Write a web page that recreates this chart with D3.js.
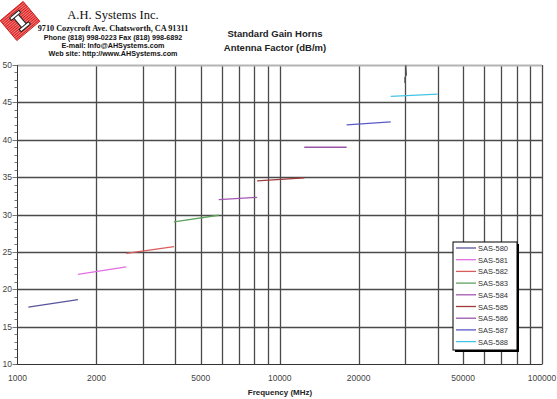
<!DOCTYPE html>
<html>
<head>
<meta charset="utf-8">
<script src="https://cdn.jsdelivr.net/npm/d3@7"></script>
<style>
  body { margin: 0; background: #fff; }
  svg { display: block; }
</style>
</head>
<body>
<script>
var w = 557;
var h = 399;

// one short segment per horn, start/end frequency in MHz and antenna factor in dB/m
var seriesNames = ["SAS-580", "SAS-581", "SAS-582", "SAS-583", "SAS-584", "SAS-585", "SAS-586", "SAS-587", "SAS-588"];
var freqStart = [1100, 1700, 2600, 3950, 5850, 8200, 12400, 18000, 26500];
var freqEnd = [1700, 2600, 3950, 5850, 8200, 12400, 18000, 26500, 40000];
var afStart = [17.6, 22.0, 24.8, 29.0, 32.0, 34.5, 39.0, 42.0, 45.8];
var afEnd = [18.6, 23.0, 25.7, 29.9, 32.3, 34.9, 39.0, 42.4, 46.1];

// stray trace near 30 GHz that runs off the top
var strayFreq = [30000, 30000, 30400, 30200];
var strayAF = [47.6, 48.3, 48.7, 50.5];

var xTickLabels = [1000, 2000, 5000, 10000, 20000, 50000, 100000];
var yTickLabels = [10, 15, 20, 25, 30, 35, 40, 45, 50];

var colors = ["#55559c", "#e26ee2", "#d85c5c", "#5fa35f", "#a457b4", "#a33a3a", "#9a55aa", "#5a5ac8", "#44c4e4"];

var pLeft = 17.5, pRight = 542, pTop = 65, pBottom = 364;

var xScale = d3.scaleLog().domain([1000, 100000]).range([pLeft, pRight]);
var yScale = d3.scaleLinear().domain([10, 50]).range([pBottom, pTop]);

var svg = d3.select("body").append("svg")
    .attr("width", w)
    .attr("height", h);

// vertical grid: every 1-9 step of each decade
var vGrid = [];
for (var d = 1000; d <= 10000; d *= 10) {
    for (var k = 1; k <= 9; k++) vGrid.push(d * k);
}
vGrid.push(100000);

svg.append("g").selectAll("line")
    .data(vGrid.filter(function(f) { return f > 1000; }))
    .enter().append("line")
    .attr("x1", function(f) { return Math.round(xScale(f)) + 0.5; })
    .attr("x2", function(f) { return Math.round(xScale(f)) + 0.5; })
    .attr("y1", pTop)
    .attr("y2", pBottom)
    .attr("stroke", "#4a4a4a")
    .attr("stroke-width", 1.3);

// horizontal grid every 5 dB
svg.append("g").selectAll("line")
    .data(yTickLabels.filter(function(v) { return v > 10; }))
    .enter().append("line")
    .attr("x1", pLeft)
    .attr("x2", pRight)
    .attr("y1", function(v) { return Math.round(yScale(v)) + 0.5; })
    .attr("y2", function(v) { return Math.round(yScale(v)) + 0.5; })
    .attr("stroke", function(v) { return v === 50 ? "#b4b4b4" : "#4a4a4a"; })
    .attr("stroke-width", function(v) { return v === 50 ? 2 : 1.3; });

// axes lines
svg.append("line")
    .attr("x1", Math.round(pLeft) - 0.5).attr("x2", Math.round(pLeft) - 0.5)
    .attr("y1", pTop).attr("y2", pBottom + 0.5)
    .attr("stroke", "#333").attr("stroke-width", 1);
svg.append("line")
    .attr("x1", pLeft - 1).attr("x2", pRight + 0.5)
    .attr("y1", pBottom + 0.5).attr("y2", pBottom + 0.5)
    .attr("stroke", "#333").attr("stroke-width", 1);

// y ticks: minor every 1 dB, major every 5
svg.append("g").selectAll("line")
    .data(d3.range(10, 51, 1))
    .enter().append("line")
    .attr("x1", function(v) { return v % 5 === 0 ? pLeft - 5 : pLeft - 3; })
    .attr("x2", Math.round(pLeft) - 0.5)
    .attr("y1", function(v) { return Math.round(yScale(v)) + 0.5; })
    .attr("y2", function(v) { return Math.round(yScale(v)) + 0.5; })
    .attr("stroke", "#555")
    .attr("stroke-width", 0.8);

svg.append("g").selectAll("text")
    .data(yTickLabels)
    .enter().append("text")
    .attr("x", 12)
    .attr("y", function(v) { return yScale(v) + 3; })
    .attr("text-anchor", "end")
    .attr("font-family", "Liberation Sans, Arial, sans-serif")
    .attr("font-size", "8.5px")
    .attr("fill", "#444")
    .text(function(v) { return v; });

svg.append("g").selectAll("text")
    .data(xTickLabels)
    .enter().append("text")
    .attr("x", function(f) { return xScale(f); })
    .attr("y", 381)
    .attr("text-anchor", "middle")
    .attr("font-family", "Liberation Sans, Arial, sans-serif")
    .attr("font-size", "8.5px")
    .attr("fill", "#444")
    .text(function(f) { return f; });

svg.append("text")
    .attr("x", 280)
    .attr("y", 395)
    .attr("text-anchor", "middle")
    .attr("font-family", "Liberation Sans, Arial, sans-serif")
    .attr("font-size", "8px")
    .attr("font-weight", "bold")
    .attr("fill", "#222")
    .text("Frequency (MHz)");

// data lines
svg.append("clipPath").attr("id", "plotclip")
    .append("rect").attr("x", pLeft).attr("y", pTop).attr("width", pRight - pLeft).attr("height", pBottom - pTop);

var line = d3.line()
    .x(function(p) { return xScale(p[0]); })
    .y(function(p) { return yScale(p[1]); });

var segs = seriesNames.map(function(name, i) {
    return [[freqStart[i], afStart[i]], [freqEnd[i], afEnd[i]]];
});

svg.append("g").attr("clip-path", "url(#plotclip)")
    .selectAll("path")
    .data(segs)
    .enter().append("path")
    .attr("d", line)
    .attr("fill", "none")
    .attr("stroke", function(d, i) { return colors[i]; })
    .attr("stroke-width", 1.3);

svg.append("path")
    .attr("clip-path", "url(#plotclip)")
    .attr("d", line(strayFreq.map(function(f, i) { return [f, strayAF[i]]; })))
    .attr("fill", "none")
    .attr("stroke", "#555")
    .attr("stroke-width", 1.2);

// legend
var lgX = 453, lgY = 242, lgW = 64, lgH = 108;
svg.append("rect")
    .attr("x", lgX + 2).attr("y", lgY + 2).attr("width", lgW).attr("height", lgH)
    .attr("fill", "#000");
svg.append("rect")
    .attr("x", lgX).attr("y", lgY).attr("width", lgW).attr("height", lgH)
    .attr("fill", "#fff").attr("stroke", "#000").attr("stroke-width", 1);

var items = svg.append("g").selectAll("g")
    .data(seriesNames)
    .enter().append("g")
    .attr("transform", function(d, i) { return "translate(0," + (lgY + 6 + i * 11.7) + ")"; });

items.append("line")
    .attr("x1", lgX + 3).attr("x2", lgX + 23)
    .attr("y1", 0).attr("y2", 0)
    .attr("stroke", function(d, i) { return colors[i]; })
    .attr("stroke-width", 1.3);

items.append("text")
    .attr("x", lgX + 25)
    .attr("y", 3)
    .attr("font-family", "Liberation Sans, Arial, sans-serif")
    .attr("font-size", "7.5px")
    .attr("fill", "#333")
    .text(function(d) { return d; });

// titles
svg.append("text")
    .attr("x", 275).attr("y", 37)
    .attr("text-anchor", "middle")
    .attr("font-family", "Liberation Sans, Arial, sans-serif")
    .attr("font-size", "9.5px")
    .attr("font-weight", "bold")
    .attr("fill", "#222")
    .text("Standard Gain Horns");
svg.append("text")
    .attr("x", 275).attr("y", 51)
    .attr("text-anchor", "middle")
    .attr("font-family", "Liberation Sans, Arial, sans-serif")
    .attr("font-size", "9.5px")
    .attr("font-weight", "bold")
    .attr("fill", "#222")
    .text("Antenna Factor (dB/m)");

// company header
var header = [
    { t: "A.H. Systems Inc.", y: 19, size: 12.5, fam: "Liberation Serif, Times New Roman, serif", wt: "normal" },
    { t: "9710 Cozycroft Ave. Chatsworth, CA 91311", y: 31, size: 8.2, fam: "Liberation Serif, Times New Roman, serif", wt: "bold" },
    { t: "Phone (818) 998-0223 Fax (818) 998-6892", y: 39.5, size: 7.2, fam: "Liberation Sans, Arial, sans-serif", wt: "bold" },
    { t: "E-mail: Info@AHSystems.com", y: 47.5, size: 7.2, fam: "Liberation Sans, Arial, sans-serif", wt: "bold" },
    { t: "Web site: http://www.AHSystems.com", y: 55.5, size: 7.2, fam: "Liberation Sans, Arial, sans-serif", wt: "bold" }
];
svg.append("g").selectAll("text")
    .data(header)
    .enter().append("text")
    .attr("x", 113)
    .attr("y", function(d) { return d.y; })
    .attr("text-anchor", "middle")
    .attr("font-family", function(d) { return d.fam; })
    .attr("font-size", function(d) { return d.size + "px"; })
    .attr("font-weight", function(d) { return d.wt; })
    .attr("fill", "#111")
    .text(function(d) { return d.t; });

// logo: striped red tile with a white "I"
var defs = svg.append("defs");
var pat = defs.append("pattern")
    .attr("id", "stripes")
    .attr("width", 4).attr("height", 2)
    .attr("patternUnits", "userSpaceOnUse");
pat.append("rect").attr("width", 4).attr("height", 2).attr("fill", "#e01818");
pat.append("rect").attr("width", 4).attr("height", 0.6).attr("fill", "#f8c8c8");

var logo = svg.append("g").attr("transform", "translate(20,21) rotate(-40)");
logo.append("rect")
    .attr("x", -15).attr("y", -13).attr("width", 30).attr("height", 26)
    .attr("fill", "url(#stripes)")
    .attr("stroke", "#c01010").attr("stroke-width", 0.8);
logo.append("rect")
    .attr("x", -3).attr("y", -9).attr("width", 6).attr("height", 18)
    .attr("fill", "#fff").attr("stroke", "#222").attr("stroke-width", 1);
logo.append("rect")
    .attr("x", -6).attr("y", -9).attr("width", 12).attr("height", 3)
    .attr("fill", "#fff").attr("stroke", "#222").attr("stroke-width", 1);
logo.append("rect")
    .attr("x", -6).attr("y", 6).attr("width", 12).attr("height", 3)
    .attr("fill", "#fff").attr("stroke", "#222").attr("stroke-width", 1);
</script>
</body>
</html>
